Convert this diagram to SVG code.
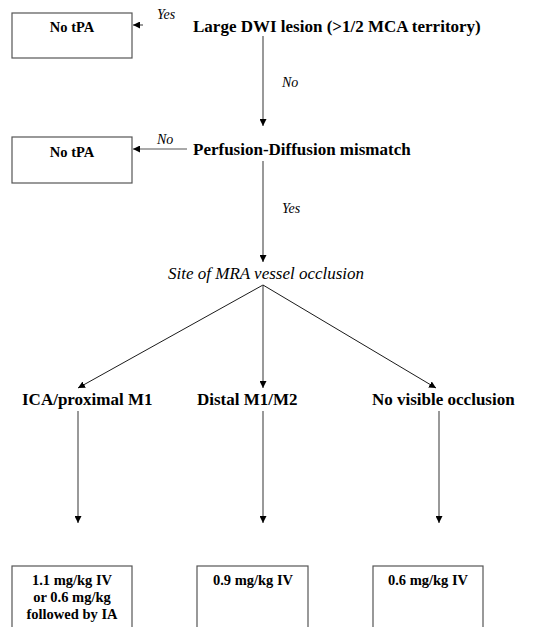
<svg xmlns="http://www.w3.org/2000/svg" width="541" height="627" viewBox="0 0 541 627">
<style>
.box{fill:#fff;stroke:#555;stroke-width:1.2}
.bt{font-family:"Liberation Serif",serif;font-weight:bold;font-size:14.5px;fill:#000;text-anchor:middle}
.lbl{font-family:"Liberation Serif",serif;font-weight:bold;font-size:17px;fill:#000}
.it{font-family:"Liberation Serif",serif;font-style:italic;fill:#000}
.sm{font-size:14px}
.ln{fill:none;stroke:#555;stroke-width:1.2}
.dg{fill:none;stroke:#000;stroke-width:0.9}
</style>
<defs>
<marker id="ah" viewBox="0 0 10 10" refX="10" refY="5" markerWidth="7" markerHeight="7" markerUnits="userSpaceOnUse" orient="auto">
<path d="M0,0 L10,5 L0,10 Z" fill="#000"/>
</marker>
</defs>
<rect width="541" height="627" fill="#fff"/>
<g id="notpa1"><rect class="box" x="12" y="13" width="120" height="45"/><text class="bt" x="72" y="32">No tPA</text></g>
<g id="dwi"><text class="lbl" x="193" y="32">Large DWI lesion (&gt;1/2 MCA territory)</text></g>
<g id="notpa2"><rect class="box" x="12" y="137" width="120" height="46"/><text class="bt" x="72" y="157">No tPA</text></g>
<g id="pd"><text class="lbl" x="193" y="155">Perfusion-Diffusion mismatch</text></g>
<g id="site"><text class="it" x="168" y="279" font-size="17">Site of MRA vessel occlusion</text></g>
<g id="ica"><text class="lbl" x="22" y="405">ICA/proximal M1</text></g>
<g id="distal"><text class="lbl" x="197" y="405">Distal M1/M2</text></g>
<g id="novis"><text class="lbl" x="372" y="405">No visible occlusion</text></g>
<g id="dose1"><rect class="box" x="12" y="566" width="120" height="70"/><text class="bt" x="72" y="585">1.1 mg/kg IV</text><text class="bt" x="72" y="602">or 0.6 mg/kg</text><text class="bt" x="72" y="619">followed by IA</text></g>
<g id="dose2"><rect class="box" x="197" y="566" width="111" height="70"/><text class="bt" x="253" y="585">0.9 mg/kg IV</text></g>
<g id="dose3"><rect class="box" x="373" y="566" width="110" height="70"/><text class="bt" x="428" y="585">0.6 mg/kg IV</text></g>
<g id="connectors">
<line class="ln" x1="143" y1="25" x2="133" y2="25" marker-end="url(#ah)"/>
<text class="it sm" x="157" y="19">Yes</text>
<line class="ln" x1="263" y1="36" x2="263" y2="126" marker-end="url(#ah)"/>
<text class="it sm" x="282" y="87">No</text>
<line class="ln" x1="187" y1="149" x2="133" y2="149" marker-end="url(#ah)"/>
<text class="it sm" x="157" y="144">No</text>
<line class="ln" x1="263" y1="161" x2="263" y2="262" marker-end="url(#ah)"/>
<text class="it sm" x="282" y="213">Yes</text>
<line class="dg" x1="263" y1="285" x2="78" y2="388" marker-end="url(#ah)"/>
<line class="ln" x1="263" y1="285" x2="263" y2="388" marker-end="url(#ah)"/>
<line class="dg" x1="263" y1="285" x2="436" y2="388" marker-end="url(#ah)"/>
<line class="ln" x1="78" y1="411" x2="78" y2="523" marker-end="url(#ah)"/>
<line class="ln" x1="263" y1="411" x2="263" y2="523" marker-end="url(#ah)"/>
<line class="ln" x1="439" y1="411" x2="439" y2="523" marker-end="url(#ah)"/>
</g>
</svg>
